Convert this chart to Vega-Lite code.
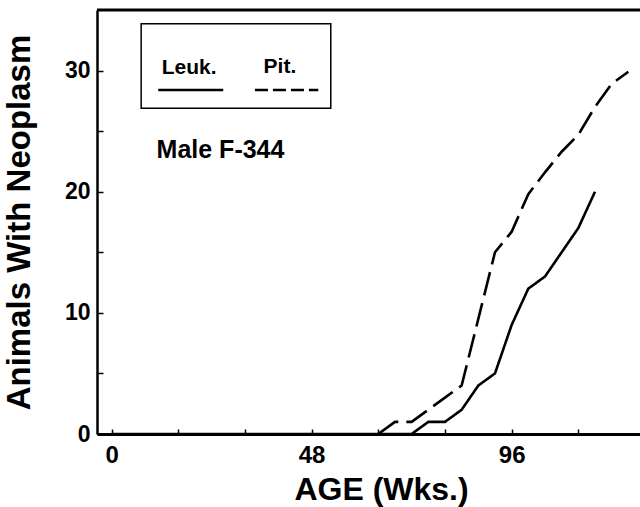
{
  "$schema": "https://vega.github.io/schema/vega-lite/v6.json",
  "width": 543,
  "height": 424,
  "autosize": "none",
  "padding": {"left": 97, "top": 10, "right": 0, "bottom": 73},
  "background": "white",
  "config": {"view": {"stroke": null}, "font": "Liberation Sans"},
  "datasets": {
    "curves": [
      {"tumor": "Leuk.", "week": 0, "count": 0},
      {"tumor": "Leuk.", "week": 72, "count": 0},
      {"tumor": "Leuk.", "week": 76, "count": 1},
      {"tumor": "Leuk.", "week": 80, "count": 1},
      {"tumor": "Leuk.", "week": 84, "count": 2},
      {"tumor": "Leuk.", "week": 88, "count": 4},
      {"tumor": "Leuk.", "week": 92, "count": 5},
      {"tumor": "Leuk.", "week": 96, "count": 9},
      {"tumor": "Leuk.", "week": 100, "count": 12},
      {"tumor": "Leuk.", "week": 104, "count": 13},
      {"tumor": "Leuk.", "week": 108, "count": 15},
      {"tumor": "Leuk.", "week": 112, "count": 17},
      {"tumor": "Leuk.", "week": 116, "count": 20},
      {"tumor": "Pit.", "week": 64, "count": 0},
      {"tumor": "Pit.", "week": 68, "count": 1},
      {"tumor": "Pit.", "week": 72, "count": 1},
      {"tumor": "Pit.", "week": 76, "count": 2},
      {"tumor": "Pit.", "week": 80, "count": 3},
      {"tumor": "Pit.", "week": 84, "count": 4},
      {"tumor": "Pit.", "week": 88, "count": 9.5},
      {"tumor": "Pit.", "week": 92, "count": 15},
      {"tumor": "Pit.", "week": 96, "count": 16.7},
      {"tumor": "Pit.", "week": 100, "count": 19.8},
      {"tumor": "Pit.", "week": 104, "count": 21.6},
      {"tumor": "Pit.", "week": 108, "count": 23.3},
      {"tumor": "Pit.", "week": 112, "count": 24.7},
      {"tumor": "Pit.", "week": 116, "count": 27},
      {"tumor": "Pit.", "week": 120, "count": 28.9},
      {"tumor": "Pit.", "week": 124, "count": 29.9}
    ],
    "one": [{}]
  },
  "layer": [
    {
      "data": {"name": "curves"},
      "mark": {"type": "line", "color": "black", "strokeWidth": 2.6, "clip": true},
      "encoding": {
        "x": {
          "field": "week",
          "type": "quantitative",
          "scale": {"domain": [-3.5, 126.8], "nice": false, "zero": false},
          "axis": {
            "values": [0, 8, 16, 24, 32, 40, 48, 56, 64, 72, 80, 88, 96, 104, 112, 120],
            "labelExpr": "datum.value % 48 === 0 ? datum.label : ''",
            "labelFlush": false,
            "labelOverlap": false,
            "grid": false,
            "tickSize": -5,
            "tickWidth": 1.5,
            "tickColor": "black",
            "domainColor": "black",
            "domainWidth": 3,
            "labelFont": "Liberation Sans",
            "labelFontSize": 24,
            "labelFontWeight": "bold",
            "labelColor": "black",
            "labelPadding": 14,
            "title": "AGE (Wks.)",
            "titleFont": "Liberation Sans",
            "titleFontSize": 32,
            "titleFontWeight": "bold",
            "titleColor": "black",
            "titlePadding": 7,
            "titleX": 284,
            "titleAlign": "center"
          }
        },
        "y": {
          "field": "count",
          "type": "quantitative",
          "scale": {"domain": [0, 35], "nice": false},
          "axis": {
            "values": [0, 5, 10, 15, 20, 25, 30],
            "labelExpr": "datum.value % 10 === 0 ? datum.label : ''",
            "labelOverlap": false,
            "labelFlush": false,
            "grid": false,
            "tickSize": -6,
            "tickWidth": 1.5,
            "tickColor": "black",
            "domainColor": "black",
            "domainWidth": 2.5,
            "labelFont": "Liberation Sans",
            "labelFontSize": 23,
            "labelFontWeight": "bold",
            "labelColor": "black",
            "labelPadding": 13,
            "title": "Animals With Neoplasm",
            "titleFont": "Liberation Sans",
            "titleFontSize": 33,
            "titleFontWeight": "bold",
            "titleColor": "black",
            "titlePadding": 28
          }
        },
        "strokeDash": {
          "field": "tumor",
          "type": "nominal",
          "scale": {"domain": ["Leuk.", "Pit."], "range": [[1, 0], [24, 8]]},
          "legend": null
        }
      }
    },
    {
      "data": {"name": "one"},
      "mark": {"type": "rule", "color": "black", "strokeWidth": 3},
      "encoding": {"y": {"datum": 35}}
    },
    {
      "data": {"name": "one"},
      "mark": {"type": "rect", "fillOpacity": 0, "stroke": "black", "strokeWidth": 1.5},
      "encoding": {
        "x": {"datum": 7.1},
        "x2": {"datum": 52.6},
        "y": {"datum": 33.86},
        "y2": {"datum": 26.9}
      }
    },
    {
      "data": {"name": "one"},
      "mark": {"type": "rule", "color": "black", "strokeWidth": 2.5},
      "encoding": {"x": {"datum": 11.2}, "x2": {"datum": 26.8}, "y": {"datum": 28.4}}
    },
    {
      "data": {"name": "one"},
      "mark": {"type": "rule", "color": "black", "strokeWidth": 2.5, "strokeDash": [13, 5]},
      "encoding": {"x": {"datum": 34.4}, "x2": {"datum": 49.6}, "y": {"datum": 28.4}}
    },
    {
      "data": {"name": "one"},
      "mark": {"type": "text", "fontSize": 21, "fontWeight": "bold", "font": "Liberation Sans", "align": "center", "baseline": "alphabetic", "color": "black"},
      "encoding": {"x": {"datum": 18.6}, "y": {"datum": 29.75}, "text": {"value": "Leuk."}}
    },
    {
      "data": {"name": "one"},
      "mark": {"type": "text", "fontSize": 21, "fontWeight": "bold", "font": "Liberation Sans", "align": "center", "baseline": "alphabetic", "color": "black"},
      "encoding": {"x": {"datum": 40.4}, "y": {"datum": 29.8}, "text": {"value": "Pit."}}
    },
    {
      "data": {"name": "one"},
      "mark": {"type": "text", "fontSize": 25, "fontWeight": "bold", "font": "Liberation Sans", "align": "left", "baseline": "alphabetic", "color": "black"},
      "encoding": {"x": {"datum": 10.8}, "y": {"datum": 22.77}, "text": {"value": "Male F-344"}}
    }
  ]
}
